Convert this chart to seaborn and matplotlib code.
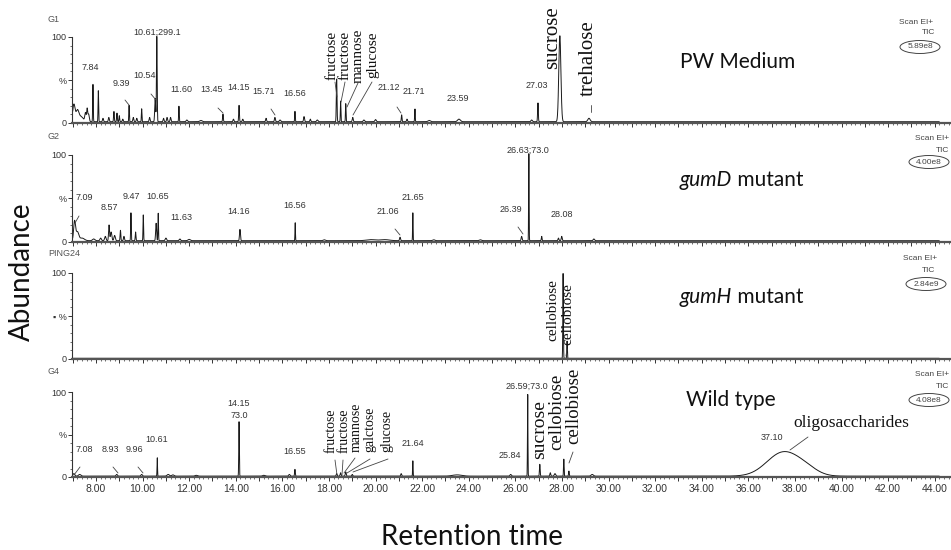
import numpy as np
import pandas as pd
import matplotlib.pyplot as plt
import seaborn as sns
from matplotlib.lines import Line2D
from matplotlib.patches import Ellipse
from matplotlib.ticker import FixedLocator, MultipleLocator

sns.set_theme(style="white")
plt.rcParams["font.family"] = ["Liberation Sans", "DejaVu Sans"]

# ---- data: peaks (retention time, % of TIC max, sigma) ----
RT_START, RT_END = 7.0, 44.2

G1_RT = [7.05, 7.2, 7.35, 7.55, 7.62, 7.68, 7.87, 8.1, 8.3, 8.55, 8.77, 8.9, 9.0, 9.15,
         9.42, 9.6, 9.75, 9.96, 10.3, 10.54, 10.61, 10.9, 11.05, 11.2, 11.56, 11.9, 12.5,
         13.45, 13.9, 14.14, 14.3, 15.3, 15.68, 15.9, 16.54, 16.93, 17.2, 17.5, 18.33,
         18.5, 18.72, 19.02, 19.5, 20.0, 21.12, 21.35, 21.69, 22.3, 23.58, 26.7, 26.97,
         27.91, 29.16]
G1_PCT = [20, 12, 6, 10, 14, 9, 44, 36, 4, 5, 12, 10, 7, 3,
          19, 5, 4, 15, 5, 27, 100, 4, 5, 5, 18, 2, 1.5,
          9, 3, 19, 3, 4, 5, 2, 12, 6, 3, 2, 50,
          24, 21, 5, 2, 2.5, 8, 3, 15, 1.5, 3, 2, 22,
          100, 4]
G1_SIGMA = [0.05, 0.06, 0.1, 0.03, 0.02, 0.03, 0.012, 0.012, 0.02, 0.02, 0.015, 0.015, 0.015, 0.02,
            0.012, 0.02, 0.02, 0.012, 0.02, 0.02, 0.015, 0.02, 0.02, 0.02, 0.012, 0.03, 0.05,
            0.015, 0.02, 0.015, 0.02, 0.02, 0.02, 0.03, 0.012, 0.02, 0.02, 0.03, 0.015,
            0.012, 0.012, 0.02, 0.03, 0.03, 0.015, 0.02, 0.012, 0.05, 0.06, 0.03, 0.015,
            0.045, 0.05]
G1_BASE = 1.5

G2_RT = [7.08, 7.2, 7.4, 7.9, 8.2, 8.4, 8.56, 8.65, 8.8, 9.05, 9.2, 9.5, 9.7, 10.03,
         10.58, 10.67, 11.0, 11.6, 12.0, 14.18, 16.55, 17.8, 19.8, 20.4, 21.05, 21.6,
         22.5, 24.5, 26.27, 26.58, 27.13, 27.85, 27.99, 29.37]
G2_PCT = [22, 10, 3, 2, 3, 5, 18, 10, 6, 12, 5, 32, 10, 30,
          20, 32, 3, 2, 1.5, 13, 21, 1, 1.2, 1.2, 4, 32,
          1, 1, 5, 100, 5, 3, 5, 2]
G2_SIGMA = [0.04, 0.06, 0.1, 0.05, 0.03, 0.03, 0.02, 0.03, 0.03, 0.015, 0.02, 0.012, 0.015, 0.012,
            0.02, 0.012, 0.03, 0.03, 0.05, 0.02, 0.01, 0.05, 0.2, 0.2, 0.02, 0.01,
            0.05, 0.05, 0.02, 0.01, 0.015, 0.02, 0.02, 0.03]
G2_BASE = 1.5

G3_RT = [28.05, 28.22]
G3_PCT = [100, 20]
G3_SIGMA = [0.012, 0.012]
G3_BASE = 0.8

G4_RT = [7.05, 7.3, 8.89, 9.96, 10.63, 11.1, 11.3, 12.3, 14.14, 15.2, 16.3, 16.54, 18.33,
         18.5, 18.72, 19.0, 21.1, 21.6, 23.5, 25.8, 26.53, 27.05, 27.5, 27.7, 28.08, 28.3,
         29.3, 37.5, 38.5]
G4_PCT = [3, 2, 2, 2, 22, 2, 1.5, 1, 64, 1, 2, 8, 3,
          4, 5, 2, 3, 18, 1.5, 2, 98, 14, 4, 3, 20, 6,
          2, 28, 6]
G4_SIGMA = [0.04, 0.05, 0.03, 0.03, 0.01, 0.05, 0.05, 0.05, 0.012, 0.05, 0.03, 0.015, 0.02,
            0.02, 0.02, 0.02, 0.02, 0.01, 0.2, 0.03, 0.01, 0.015, 0.02, 0.03, 0.012, 0.015,
            0.05, 0.7, 0.5]
G4_BASE = 1.0

SAMPLES = ["PW Medium", "gumD mutant", "gumH mutant", "Wild type"]
RUN_IDS = ["G1", "G2", "PING24", "G4"]
TIC_MAX = ["5.89e8", "4.00e8", "2.84e9", "4.08e8"]

# ---- build traces ----
rt = np.arange(RT_START, RT_END, 0.004)
rows = []
for k, (prt, ppct, psig, base) in enumerate([
        (G1_RT, G1_PCT, G1_SIGMA, G1_BASE), (G2_RT, G2_PCT, G2_SIGMA, G2_BASE),
        (G3_RT, G3_PCT, G3_SIGMA, G3_BASE), (G4_RT, G4_PCT, G4_SIGMA, G4_BASE)]):
    y = np.full_like(rt, base)
    for c, h, s in zip(prt, ppct, psig):
        y += h * np.exp(-0.5 * ((rt - c) / s) ** 2)
    rows.append(pd.DataFrame({"rt": rt, "pct": y, "panel": k}))
df = pd.concat(rows, ignore_index=True)

# ---- layout ----
W, H = 951, 550
fig = plt.figure(figsize=(W / 100, H / 100), dpi=100)


def fx(x):
    return x / W


def fy(y):
    return 1 - y / H


PANEL_PX = [(123, 37), (242, 155), (359, 273), (477, 392)]
XLIM = (6.97, 44.70)
GREY = "#333333"

axes = []
for k, (zero, hundred) in enumerate(PANEL_PX):
    ax = fig.add_axes([fx(72), fy(zero), (W - 72) / W, (zero - hundred) / H])
    sns.lineplot(data=df[df["panel"] == k], x="rt", y="pct", ax=ax, color="#1a1a1a",
                 linewidth=0.7, estimator=None, clip_on=False)
    ax.set_xlim(*XLIM)
    ax.set_ylim(0, 100)
    ax.set_xlabel("")
    ax.set_ylabel("")
    for s in ["top", "right"]:
        ax.spines[s].set_visible(False)
    ax.spines["left"].set_color(GREY)
    ax.spines["left"].set_linewidth(0.8)
    ax.spines["bottom"].set_color("#555555")
    ax.spines["bottom"].set_linewidth(1.6)
    ax.set_yticks([0, 50, 100])
    ax.set_yticklabels(["0", "▪ %" if k == 2 else "%", "100"])
    ax.yaxis.set_minor_locator(MultipleLocator(10))
    ax.xaxis.set_major_locator(FixedLocator(list(range(7, 45))))
    ax.xaxis.set_minor_locator(MultipleLocator(0.2))
    if k == 3:
        ax.set_xticklabels([f"{t:.2f}" if t % 2 == 0 else "" for t in range(7, 45)])
    else:
        ax.set_xticklabels([])
    ax.tick_params(axis="both", which="major", direction="out", length=3, width=0.7,
                   colors=GREY, labelsize=6.5, pad=1, bottom=True, left=True)
    ax.tick_params(axis="both", which="minor", direction="out", length=1.5, width=0.5,
                   colors=GREY, bottom=True, left=True)
    ax.tick_params(axis="x", which="major", labelsize=7.5, pad=2)
    ax.set_facecolor("none")
    axes.append(ax)

# ---- annotations ----
num_font = dict(fontsize=6.5, color=GREY, ha="center", va="center")
PEAK_LABELS = [
    ("7.84", 90, 67), ("9.39", 121, 83), ("10.54", 145, 76), ("10.61;299.1", 157, 32),
    ("11.60", 181, 90), ("13.45", 212, 90), ("14.15", 239, 88), ("15.71", 264, 92),
    ("16.56", 295, 93), ("21.12", 389, 88), ("21.71", 414, 92), ("23.59", 458, 99),
    ("27.03", 537, 86),
    ("7.09", 84, 197), ("8.57", 109, 207), ("9.47", 131, 196), ("10.65", 158, 196),
    ("11.63", 181, 218), ("14.16", 239, 212), ("16.56", 295, 206), ("21.06", 388, 212),
    ("21.65", 413, 197), ("26.63;73.0", 528, 150), ("26.39", 511, 210), ("28.08", 562, 214),
    ("7.08", 84, 450), ("8.93", 110, 450), ("9.96", 134, 450), ("10.61", 157, 440),
    ("14.15", 239, 404), ("73.0", 239, 416), ("16.55", 295, 452), ("21.64", 413, 443),
    ("26.59;73.0", 527, 386), ("25.84", 510, 455), ("37.10", 772, 437),
]
for txt, x, y in PEAK_LABELS:
    fig.text(fx(x), fy(y), txt, **num_font)

SUGAR_LABELS = [
    ("fructose", 332, 55, 11), ("fructose", 345, 55, 11), ("mannose", 358, 56, 11),
    ("glucose", 373, 55, 11), ("sucrose", 553, 38, 15), ("trehalose", 588, 58, 15),
    ("cellobiose", 553, 310, 11), ("cellobiose", 568, 314, 11),
    ("fructose", 331, 431, 10), ("fructose", 344, 431, 10), ("mannose", 356, 427, 10),
    ("galctose", 370, 429, 10), ("glucose", 387, 431, 10), ("sucrose", 540, 430, 14),
    ("cellobiose", 557, 412, 13.5), ("cellobiose", 574, 406, 13.5),
]
for txt, x, y, size in SUGAR_LABELS:
    fig.text(fx(x), fy(y), txt, rotation=90, ha="center", va="center", fontsize=size,
             family="Liberation Serif", color="#111111")
fig.text(fx(851), fy(423), "oligosaccharides", ha="center", va="center", fontsize=12.5,
         family="Liberation Serif", color="#111111")

CONNECTORS = [
    ((125, 100), (129, 105)), ((151, 94), (156, 100)), ((218, 108), (223, 113)),
    ((271, 109), (275, 115)), ((335, 82), (337, 97)), ((345, 82), (341, 102)),
    ((358, 83), (347, 107)), ((372, 82), (353, 115)), ((397, 107), (401, 113)),
    ((591, 105), (591, 112)),
    ((79, 216), (75, 223)), ((395, 229), (400, 235)), ((518, 227), (523, 234)),
    ((567, 349), (566, 356)),
    ((80, 467), (74, 475)), ((113, 467), (118, 473)), ((138, 467), (143, 473)),
    ((335, 460), (337, 475)), ((343, 460), (342, 475)), ((355, 458), (344, 473)),
    ((370, 459), (347, 473)), ((388, 459), (353, 472)), ((573, 452), (569, 463)),
    ((808, 437), (790, 450)),
]
for (x0, y0), (x1, y1) in CONNECTORS:
    fig.add_artist(Line2D([fx(x0), fx(x1)], [fy(y0), fy(y1)], transform=fig.transFigure,
                          color="#444444", linewidth=0.6))

# run ids, scan info
ID_POS = [(48, 20), (48, 137), (48, 254), (48, 372)]
for rid, (x, y) in zip(RUN_IDS, ID_POS):
    fig.text(fx(x), fy(y), rid, fontsize=6.5, color="#555555", ha="left", va="center")

SCAN_POS = [(933, 23, 935, 33, 920, 47), (949, 139, 949, 150, 929, 162),
            (937, 258, 935, 271, 926, 284), (949, 375, 949, 387, 929, 400)]
for tic, (sx, sy, tx, ty, ex, ey) in zip(TIC_MAX, SCAN_POS):
    fig.text(fx(sx), fy(sy), "Scan EI+", fontsize=6, color="#444444", ha="right", va="center")
    fig.text(fx(tx), fy(ty), "TIC", fontsize=6, color="#444444", ha="right", va="center")
    fig.add_artist(Ellipse((fx(ex), fy(ey)), 40 / W, 13 / H, transform=fig.transFigure,
                           fill=False, edgecolor="#444444", linewidth=0.7))
    fig.text(fx(ex), fy(ey), tic, fontsize=6, color="#444444", ha="center", va="center")

# sample names
name_font = dict(fontsize=15, family=["Lato", "DejaVu Sans"], color="#111111", va="center")
NAME_POS = [(680, 62), (680, 180), (680, 297), (686, 400)]
for name, (x, y) in zip(SAMPLES, NAME_POS):
    if name.startswith("gum"):
        gene, rest = name.split(" ", 1)
        t = fig.text(fx(x), fy(y), gene, style="italic", ha="left", **name_font)
        axes[0].annotate(" " + rest, xy=(1, 0.5), xycoords=t, ha="left", **name_font)
    else:
        fig.text(fx(x), fy(y), name, ha="left", **name_font)

fig.text(fx(22), fy(272), "Abundance", rotation=90, ha="center", va="center",
         fontsize=20, family=["Lato", "DejaVu Sans"], color="#111111")
fig.text(fx(472), fy(537), "Retention time", ha="center", va="center",
         fontsize=20, family=["Lato", "DejaVu Sans"], color="#111111")

fig.savefig("out.png", dpi=100, facecolor="white")
